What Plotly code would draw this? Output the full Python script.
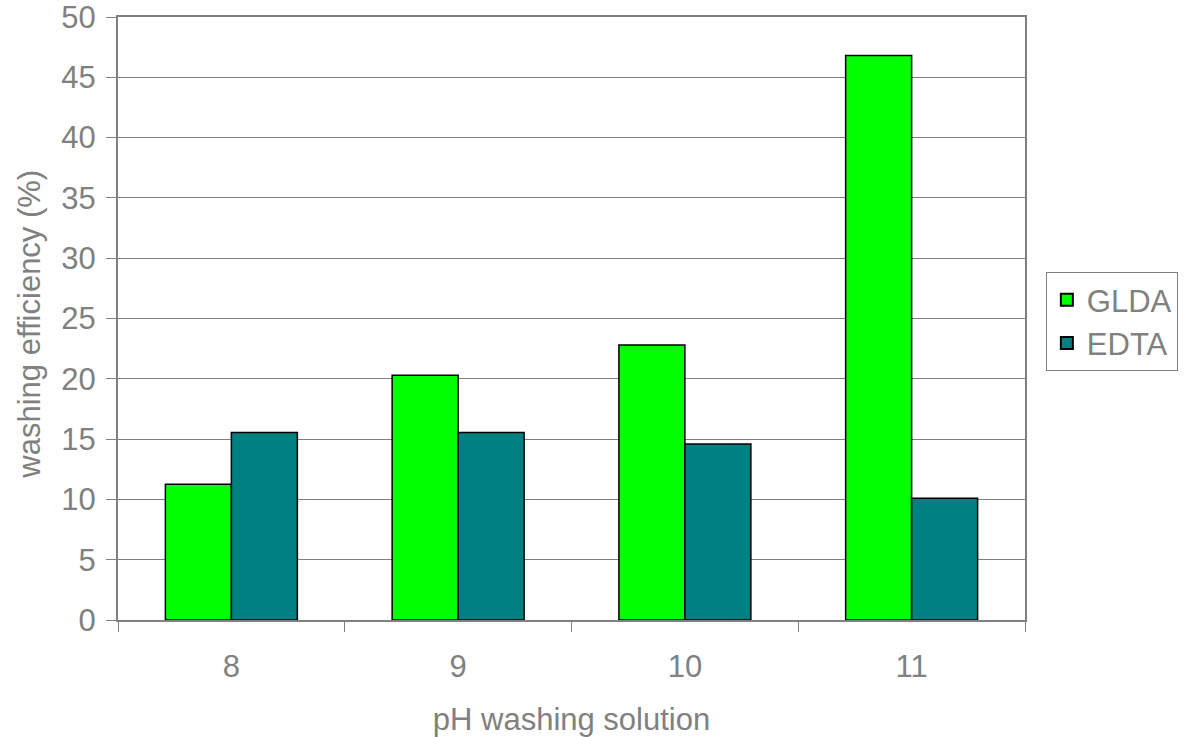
import plotly.graph_objects as go

# pH of the washing solution and washing efficiency (%) per chelating agent
ph_levels = ["8", "9", "10", "11"]
glda_eff = [11.25, 20.3, 22.8, 46.8]
edta_eff = [15.55, 15.55, 14.6, 10.1]

GRAY = "#808080"
FONT = "Liberation Sans, Arial, sans-serif"
FS = 31

fig = go.Figure()
fig.add_trace(go.Bar(
    x=ph_levels, y=glda_eff, name="GLDA",
    marker=dict(color="#00FF00", line=dict(color="black", width=1.5)),
))
fig.add_trace(go.Bar(
    x=ph_levels, y=edta_eff, name="EDTA",
    marker=dict(color="#008080", line=dict(color="black", width=1.5)),
))

fig.update_layout(
    width=1189, height=737,
    margin=dict(l=118, r=164, t=17, b=117, autoexpand=False),
    paper_bgcolor="white", plot_bgcolor="white",
    barmode="group", bargap=0.418, bargroupgap=0,
    font=dict(family=FONT, color=GRAY, size=FS),
    showlegend=True,
    legend=dict(
        x=1.023, y=0.577, xanchor="left", yanchor="top",
        bordercolor=GRAY, borderwidth=1,
        font=dict(size=FS, color=GRAY),
        itemsizing="constant", tracegroupgap=12,
    ),
    annotations=[dict(
        text="washing efficiency (%)", textangle=-90,
        xref="paper", yref="paper", x=-0.098, y=0.49,
        xanchor="center", yanchor="middle", showarrow=False,
        font=dict(size=FS, color=GRAY),
    )],
)

fig.update_xaxes(
    type="category", automargin=False,
    title=dict(text="pH washing solution", font=dict(size=FS, color=GRAY), standoff=26),
    tickson="boundaries", ticks="outside", ticklen=10, tickcolor=GRAY, tickwidth=1,
    tickfont=dict(size=FS, color=GRAY), ticklabelstandoff=18,
    showline=True, linecolor=GRAY, linewidth=2, mirror=True,
    showgrid=False,
)
fig.update_yaxes(
    range=[0, 50], dtick=5, automargin=False,
    ticks="outside", ticklen=10, tickcolor=GRAY, tickwidth=1,
    tickfont=dict(size=FS, color=GRAY), ticklabelstandoff=4,
    ticklabeloverflow="allow",
    showline=True, linecolor=GRAY, linewidth=2, mirror=True,
    showgrid=True, gridcolor=GRAY, gridwidth=1,
    zeroline=False,
)

fig.write_html("out.html")
